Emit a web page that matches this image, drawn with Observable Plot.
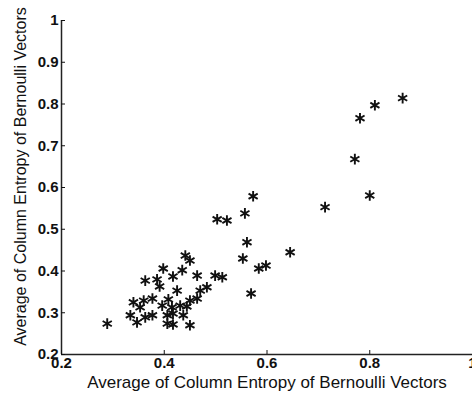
<!DOCTYPE html>
<html><head><meta charset="utf-8">
<script src="https://cdn.jsdelivr.net/npm/d3@7"></script>
<script src="https://cdn.jsdelivr.net/npm/@observablehq/plot@0.6"></script>
<style>
body{margin:0;background:#fff;}
svg{font-family:"Liberation Sans",Arial,sans-serif;}
</style></head><body><div id="chart"></div>
<script>
const xs = [0.864,0.810,0.781,0.771,0.800,0.573,0.713,0.557,0.561,0.553,0.645,0.584,0.598,0.569,
0.289,0.503,0.522,0.441,0.450,0.398,0.435,0.417,0.363,0.386,0.391,0.464,0.499,0.513,0.425,0.470,0.483,0.464,
0.360,0.377,0.340,0.353,0.396,0.408,0.415,0.431,0.444,0.450,0.334,0.347,0.377,0.363,0.406,0.417,0.406,0.417,0.437,0.450];
const ys = [0.814,0.797,0.766,0.668,0.581,0.579,0.553,0.538,0.469,0.430,0.445,0.406,0.413,0.346,
0.274,0.524,0.521,0.437,0.425,0.406,0.402,0.387,0.377,0.380,0.363,0.389,0.389,0.385,0.353,0.353,0.361,0.334,
0.329,0.334,0.325,0.313,0.317,0.332,0.313,0.317,0.315,0.329,0.294,0.277,0.294,0.289,0.294,0.298,0.274,0.272,0.294,0.270];
const xTicks = [0.2,0.4,0.6,0.8,1];
const yTicks = [0.2,0.3,0.4,0.5,0.6,0.7,0.8,0.9,1];
const xLabel = "Average of Column Entropy of Bernoulli Vectors";
const yLabel = "Average of Column Entropy of Bernoulli Vectors";
const data = xs.map((x,i)=>({x, y: ys[i]}));
const fmt = d => d3.format("")(d);
const chart = Plot.plot({
  width: 472, height: 395,
  marginLeft: 61, marginRight: 0, marginTop: 20, marginBottom: 41,
  x: {domain:[0.2,1]}, y: {domain:[0.2,1]},
  style: {fontFamily:'"Liberation Sans", Arial, sans-serif', color:"#111", background:"#fff"},
  marks: [
    Plot.ruleX([0.2], {stroke:"#222", strokeWidth:1.5}),
    Plot.ruleY([0.2], {stroke:"#222", strokeWidth:1.5}),
    Plot.axisX({ticks:xTicks, tickFormat:fmt, tickSize:-4, tickPadding:7, fontSize:15, fontWeight:"bold", label:null}),
    Plot.axisY({ticks:yTicks, tickFormat:fmt, tickSize:-4, tickPadding:7, fontSize:15, fontWeight:"bold", label:null}),
    Plot.text([xLabel], {frameAnchor:"bottom", dy:28, lineAnchor:"middle", textAnchor:"middle", fontSize:17, fill:"#111"}),
    Plot.text([yLabel], {frameAnchor:"left", dx:-41, dy:-11, rotate:-90, lineAnchor:"middle", textAnchor:"middle", fontSize:16, fill:"#111"}),
    Plot.dot(data, {x:"x", y:"y", symbol:"asterisk", r:5, stroke:"#111", strokeWidth:1.9})
  ]
});
document.getElementById("chart").appendChild(chart);
</script></body></html>
